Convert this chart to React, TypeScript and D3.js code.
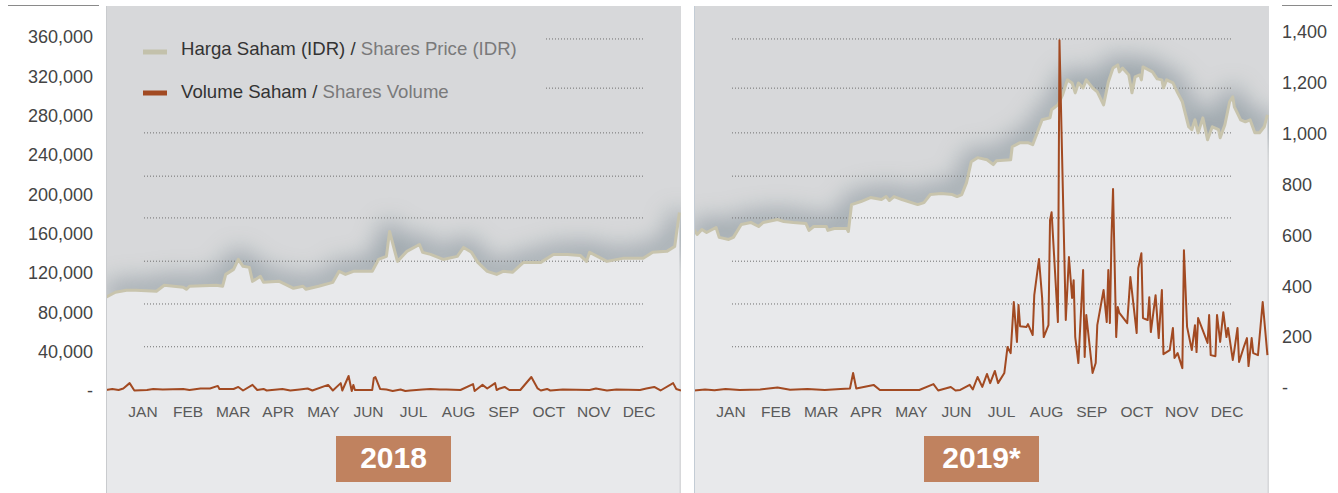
import React from 'react';
import * as d3 from 'd3';

// month labels shared by both panels
const months = ['JAN', 'FEB', 'MAR', 'APR', 'MAY', 'JUN', 'JUL', 'AUG', 'SEP', 'OCT', 'NOV', 'DEC'];

// axis ticks
const priceTicks = [0, 40000, 80000, 120000, 160000, 200000, 240000, 280000, 320000, 360000];
const volumeTicks = [0, 200, 400, 600, 800, 1000, 1200, 1400];
// dotted guide lines (in price units)
const gridLevels = [45000, 88500, 132000, 176000, 218500, 262500, 308000, 358000];

// 2018 share price (day of year, IDR)
const priceDays2018 = [0, 6, 13, 19, 32, 37, 49, 51, 53, 70, 74, 76, 81, 84, 87, 91, 93, 98, 100, 110, 119, 125, 127, 135, 144, 148, 152, 157, 169, 173, 178, 180, 185, 191, 199, 201, 206, 214, 223, 227, 232, 236, 242, 248, 252, 258, 265, 276, 284, 293, 301, 305, 307, 318, 328, 341, 347, 356, 361, 364];
const price2018 = [95300, 100400, 102400, 102400, 101400, 107500, 105500, 103400, 106500, 107500, 106500, 118600, 123700, 133800, 126800, 125700, 111500, 116600, 110500, 111500, 104400, 106500, 103400, 106500, 110500, 121700, 118600, 121700, 121700, 133800, 136900, 162200, 131800, 142000, 149000, 141000, 138900, 133800, 136900, 146000, 141000, 130800, 121700, 118600, 121700, 120700, 130800, 130800, 138900, 138900, 137900, 131800, 141000, 131800, 134900, 134900, 141000, 142000, 147000, 181500];

// 2018 share volume
const volDays2018 = [0, 4, 8, 11, 15, 18, 26, 30, 36, 49, 53, 60, 66, 71, 72, 81, 84, 87, 93, 96, 100, 102, 112, 117, 123, 128, 131, 141, 144, 149, 150, 154, 156, 157, 158, 169, 170, 171, 174, 178, 182, 187, 190, 193, 201, 206, 212, 216, 225, 233, 234, 236, 239, 242, 247, 248, 250, 253, 256, 263, 270, 274, 276, 280, 282, 290, 307, 311, 318, 324, 339, 343, 348, 352, 360, 362, 365];
const volume2018 = [4, 8, 4, 10, 31, 2, 4, 8, 6, 8, 4, 10, 10, 20, 8, 8, 16, 2, 24, 4, 8, 2, 8, 2, 6, 10, 2, 24, 2, 31, 2, 59, 0, 24, 4, 4, 51, 55, 8, 6, 0, 6, 0, 2, 6, 8, 6, 6, 4, 27, 0, 10, 24, 10, 31, 4, 10, 16, 4, 4, 55, 10, 2, 8, 2, 6, 4, 10, 2, 6, 4, 10, 16, 2, 31, 8, 2];

// 2019 share price
const priceDays2019 = [0, 2, 5, 8, 14, 16, 22, 25, 30, 36, 41, 44, 53, 57, 63, 71, 73, 76, 84, 85, 89, 97, 98, 100, 106, 112, 119, 122, 124, 127, 132, 138, 142, 146, 150, 157, 164, 167, 170, 173, 176, 180, 186, 190, 192, 201, 202, 207, 212, 215, 221, 226, 227, 231, 234, 237, 240, 242, 244, 247, 249, 253, 256, 260, 263, 266, 269, 270, 272, 276, 278, 280, 283, 284, 285, 291, 294, 297, 298, 300, 304, 307, 310, 314, 316, 318, 320, 323, 326, 329, 333, 334, 337, 340, 342, 343, 347, 350, 353, 356, 359, 362, 364];
const price2019 = [164300, 159200, 164300, 161200, 166300, 156200, 154100, 156200, 169300, 171400, 167300, 171400, 174400, 172400, 171400, 170400, 163300, 167300, 167300, 163300, 165300, 165300, 162200, 189600, 192700, 196700, 194700, 197700, 193700, 197700, 194700, 191600, 189600, 191600, 199800, 200800, 199800, 197700, 199800, 211900, 233200, 237300, 235200, 230200, 234200, 235200, 248400, 252500, 252500, 250500, 275800, 277800, 286000, 291000, 301200, 316400, 313300, 303200, 313300, 308300, 316400, 308300, 304200, 291000, 314300, 328500, 331600, 324500, 328500, 321400, 303200, 319400, 321400, 316400, 329600, 324500, 317400, 316400, 308300, 316400, 313300, 303200, 294100, 268700, 265700, 275800, 262600, 277800, 255500, 268700, 265700, 257600, 270700, 294100, 299100, 289000, 275800, 273800, 275800, 262600, 262600, 268700, 280900];

// 2019 share volume
const volDays2019 = [0, 7, 13, 20, 29, 42, 53, 61, 72, 83, 93, 99, 101, 103, 114, 118, 126, 143, 152, 155, 163, 166, 169, 175, 177, 180, 183, 186, 188, 191, 193, 197, 199, 201, 203, 205, 206, 207, 211, 212, 215, 216, 219, 221, 222, 225, 226, 227, 231, 232, 236, 238, 240, 241, 242, 244, 247, 248, 249, 253, 255, 256, 260, 262, 263, 264, 265, 266, 268, 269, 270, 275, 277, 281, 282, 284, 285, 288, 289, 290, 293, 295, 297, 298, 302, 304, 305, 307, 310, 311, 313, 316, 318, 319, 320, 326, 327, 328, 331, 332, 334, 336, 338, 339, 342, 343, 345, 346, 349, 351, 352, 354, 355, 358, 361, 364];
const volume2019 = [2, 6, 3, 8, 4, 6, 14, 5, 8, 4, 8, 10, 71, 10, 24, 4, 4, 4, 27, 2, 16, 2, 4, 24, 6, 55, 16, 67, 31, 79, 31, 71, 173, 149, 350, 193, 338, 255, 252, 263, 220, 377, 519, 365, 212, 259, 672, 703, 271, 1379, 279, 527, 366, 436, 212, 110, 476, 134, 299, 71, 110, 259, 397, 271, 476, 267, 601, 794, 212, 330, 307, 267, 448, 228, 483, 542, 287, 279, 369, 232, 377, 208, 397, 145, 161, 248, 130, 149, 90, 554, 252, 161, 259, 153, 287, 189, 299, 141, 137, 299, 193, 310, 212, 248, 122, 161, 248, 114, 173, 208, 98, 208, 149, 141, 350, 141];

const W = 1338;
const H = 493;
const PANEL_W = 575;
const PANEL_TOP = 6;
const FONT = '"Liberation Sans", Arial, Helvetica, sans-serif';

const yPrice = d3.scaleLinear().domain([0, 360000]).range([391, 37]);
const yVol = d3.scaleLinear().domain([0, 1400]).range([391, 35]);
const fmt = d3.format(',');

type PanelProps = {
  id: string;
  left: number;
  days: number[];
  price: number[];
  volDays: number[];
  volume: number[];
  year: string;
  legend?: boolean;
  edge: string;
};

const Panel = ({ id, left, days, price, volDays, volume, year, legend, edge }: PanelProps) => {
  const x = d3.scaleLinear().domain([0, 365]).range([0, PANEL_W]);
  const monthX = d3.scalePoint<string>().domain(months).range([37, 533]);

  const priceLine = d3.line<number>().x((_, i) => x(days[i])).y(d => yPrice(d));
  const priceArea = d3.area<number>().x((_, i) => x(days[i])).y0(H).y1(d => yPrice(d));
  const volLine = d3.line<number>().x((_, i) => x(volDays[i])).y(d => yVol(d));

  return (
    <g transform={`translate(${left},0)`}>
      <defs>
        <clipPath id={`clip-${id}`}>
          <rect x={0} y={PANEL_TOP} width={PANEL_W} height={H - PANEL_TOP} />
        </clipPath>
      </defs>
      <g clipPath={`url(#clip-${id})`}>
        <rect x={0} y={PANEL_TOP} width={PANEL_W} height={H - PANEL_TOP} fill="#d7d8da" />
        {/* soft shadow above the price line */}
        <path d={priceLine(price) || ''} fill="none" stroke="#8b979e" strokeWidth={20}
          strokeLinejoin="round" filter="url(#shadowBlur)" opacity={0.8} />
        <path d={priceArea(price) || ''} fill="#e8e9eb" />
        {gridLevels.map((g, i) => (
          <line key={i} x1={legend && i >= 6 ? 440 : 38} x2={538} y1={yPrice(g)} y2={yPrice(g)}
            stroke="#6f6f6f" strokeWidth={1} strokeDasharray="1 2" />
        ))}
        <path d={priceLine(price) || ''} fill="none" stroke="#c8c4ad" strokeWidth={3} strokeLinejoin="round" />
        <path d={volLine(volume) || ''} fill="none" stroke="#a24a22" strokeWidth={2} strokeLinejoin="round" />
      </g>
      <line x1={0.5} x2={0.5} y1={PANEL_TOP} y2={H} stroke={edge} strokeWidth={1} />

      {months.map(m => (
        <text key={m} x={monthX(m)} y={417} textAnchor="middle" fontSize={15.5}
          fill="#5a5a5a" fontFamily={FONT}>{m}</text>
      ))}

      <rect x={PANEL_W / 2 - 57.5} y={436} width={115} height={46} fill="#c0825f" />
      <text x={PANEL_W / 2} y={468} textAnchor="middle" fontSize={30} fontWeight="bold"
        fill="#ffffff" fontFamily={FONT}>{year}</text>

      {legend && (
        <g fontFamily={FONT} fontSize={18.6}>
          <rect x={37} y={49.5} width={24} height={5} fill="#c3c1ab" />
          <text x={75} y={55}>
            <tspan fill="#333333">Harga Saham (IDR) / </tspan>
            <tspan fill="#7a7a7a">Shares Price (IDR)</tspan>
          </text>
          <rect x={37} y={90.5} width={24} height={5} fill="#a24a22" />
          <text x={75} y={98}>
            <tspan fill="#333333">Volume Saham / </tspan>
            <tspan fill="#7a7a7a">Shares Volume</tspan>
          </text>
        </g>
      )}
    </g>
  );
};

const App = () => {
  return (
    <svg width={W} height={H} style={{ position: 'absolute', left: 0, top: 0, background: '#ffffff' }}>
      <defs>
        <filter id="shadowBlur" filterUnits="userSpaceOnUse" x={-100} y={-100} width={900} height={800}>
          <feGaussianBlur stdDeviation={12} />
        </filter>
      </defs>

      <line x1={8} x2={99} y1={5.5} y2={5.5} stroke="#8a8a8a" strokeWidth={1} />
      <line x1={1282} x2={1332} y1={5.5} y2={5.5} stroke="#8a8a8a" strokeWidth={1} />

      {/* left axis: share price */}
      <g fontFamily={FONT} fontSize={18} fill="#444444">
        {priceTicks.map(t => (
          <text key={t} x={93} y={yPrice(t)} dy="0.35em" textAnchor="end">{t === 0 ? '-' : fmt(t)}</text>
        ))}
      </g>

      {/* right axis: share volume */}
      <g fontFamily={FONT} fontSize={18} fill="#444444">
        {volumeTicks.map(t => (
          <text key={t} x={1282} y={yVol(t) - 3} dy="0.35em" textAnchor="start">{t === 0 ? '-' : fmt(t)}</text>
        ))}
      </g>

      <Panel id="y2018" left={106} days={priceDays2018} price={price2018}
        volDays={volDays2018} volume={volume2018} year="2018" legend edge="#c9cbce" />
      <Panel id="y2019" left={694} days={priceDays2019} price={price2019}
        volDays={volDays2019} volume={volume2019} year="2019*" edge="#c3ccd5" />
    </svg>
  );
};

export default App;
